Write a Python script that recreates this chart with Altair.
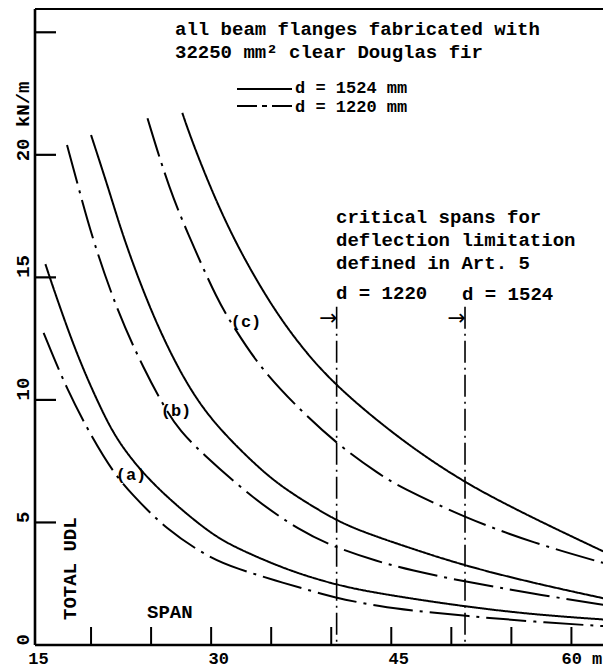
import altair as alt
import pandas as pd

# ---------------- data ----------------
# (a) d = 1524 mm (solid)
a1524_span = [16.2, 16.9, 18.8, 20.8, 22.2, 24.4, 26.9, 29.9, 31.9, 34.7, 37.4, 40.5, 43.0, 46.6, 51.0, 56.8, 63.3]
a1524_udl = [15.54, 14.5, 11.85, 9.65, 8.32, 6.95, 5.78, 4.57, 4.01, 3.40, 2.89, 2.45, 2.19, 1.90, 1.58, 1.24, 1.02]
# (a) d = 1220 mm (dash-dot)
a1220_span = [16.05, 18.0, 20.2, 21.9, 23.3, 26.3, 29.9, 32.0, 36.0, 39.7, 40.8, 44.2, 46.6, 51.3, 56.8, 63.3]
a1220_udl = [12.74, 10.40, 8.36, 7.02, 6.20, 4.69, 3.55, 3.14, 2.53, 2.02, 1.88, 1.56, 1.41, 1.18, 0.95, 0.75]
# (b) d = 1524 mm
b1524_span = [20.0, 21.6, 22.7, 24.9, 27.2, 29.4, 31.9, 34.9, 37.4, 40.5, 43.0, 46.6, 51.0, 56.8, 63.3]
b1524_udl = [20.81, 18.4, 16.6, 13.7, 11.3, 9.55, 8.2, 6.8, 5.97, 5.05, 4.55, 3.95, 3.25, 2.53, 1.84]
# (b) d = 1220 mm
b1220_span = [18.0, 19.1, 20.2, 22.2, 24.4, 26.3, 27.4, 29.1, 33.3, 37.4, 40.5, 43.8, 46.6, 51.0, 56.8, 63.3]
b1220_udl = [20.4, 18.4, 16.45, 13.6, 11.25, 9.53, 8.75, 7.88, 6.05, 4.65, 3.95, 3.42, 3.05, 2.60, 2.09, 1.59]
# (c) d = 1524 mm
c1524_span = [27.6, 28.3, 29.9, 31.9, 34.7, 37.4, 40.5, 45.8, 50.5, 54.1, 58.2, 63.3]
c1524_udl = [21.71, 20.7, 18.70, 16.52, 14.08, 12.2, 10.5, 8.36, 6.81, 5.85, 4.85, 3.67]
# (c) d = 1220 mm
c1220_span = [24.7, 26.5, 28.4, 30.5, 31.9, 34.1, 37.4, 40.5, 44.1, 45.7, 51.0, 56.8, 63.3]
c1220_udl = [21.49, 18.6, 16.4, 14.1, 12.95, 11.3, 9.59, 8.19, 6.93, 6.46, 5.22, 4.16, 3.26]

# critical spans for deflection limitation
crit_span = [40.45, 51.14]
crit_top = [13.8, 13.8]
crit_arrow = [13.34, 13.34]

x_tick_vals = [20, 25, 30, 35, 40, 45, 50, 55, 60]
x_label_vals = [15, 30, 45, 60]
y_tick_vals = [5, 10, 15, 20, 25]
y_label_vals = [0, 5, 10, 15, 20]

# ---------------- build tables ----------------
rows = []
for name, depth, sp, ud in [
    ("a", "1524", a1524_span, a1524_udl), ("a", "1220", a1220_span, a1220_udl),
    ("b", "1524", b1524_span, b1524_udl), ("b", "1220", b1220_span, b1220_udl),
    ("c", "1524", c1524_span, c1524_udl), ("c", "1220", c1220_span, c1220_udl),
]:
    for s, u in zip(sp, ud):
        rows.append({"curve": name + depth, "depth": depth, "span": s, "udl": u})
df = pd.DataFrame(rows)
crit_df = pd.DataFrame({"span": crit_span, "top": crit_top, "arrow": crit_arrow})
xt_df = pd.DataFrame({"v": x_tick_vals})
yt_df = pd.DataFrame({"v": y_tick_vals})
one = pd.DataFrame({"k": [0]})

W, H = 572, 636
FONT = "Liberation Mono"
FS = 19
FW = "bold"

xs = alt.Scale(domain=[15, 62.63], nice=False, zero=False)
ys = alt.Scale(domain=[0, 25.95], nice=False, zero=False)

xaxis = alt.Axis(values=x_label_vals, domain=False, ticks=False, grid=False, title=None,
                 labelExpr="datum.value == 60 ? '60 m' : datum.label",
                 labelFont=FONT, labelFontSize=17, labelFontWeight=FW, labelColor="black",
                 labelPadding=5, labelBaseline="top", labelFlush=False, labelOverlap=False,
                 labelBound=False,
                 labelOffset={"condition": {"test": "datum.value == 60", "value": 10}, "value": 7})
yaxis = alt.Axis(values=y_label_vals, domain=False, ticks=False, grid=False, title=None,
                 labelExpr="datum.value == 20 ? '20 kN/m' : datum.label",
                 labelAngle=270, labelAlign="left", labelBaseline="alphabetic",
                 labelFont=FONT, labelFontSize=FS, labelFontWeight=FW, labelColor="black",
                 labelPadding=3, labelFlush=False, labelOverlap=False, labelBound=False,
                 labelOffset={"condition": {"test": "datum.value == 20", "value": 6}, "value": 0})

X = lambda f: alt.X(f, scale=xs, axis=xaxis)
Y = lambda f: alt.Y(f, scale=ys, axis=yaxis)

curves = alt.Chart(df).mark_line(clip=True, strokeWidth=2, color="black", interpolate="basis").encode(
    x=X("span:Q"), y=Y("udl:Q"), detail="curve:N",
    strokeDash=alt.StrokeDash("depth:N", scale=alt.Scale(domain=["1524", "1220"],
                                                          range=[[1, 0], [40, 7, 3, 7]]), legend=None),
)

crit = alt.Chart(crit_df).mark_rule(color="black", strokeWidth=1.6, strokeDash=[22, 5, 2, 5]).encode(
    x=X("span:Q"), y=Y("top:Q"), y2=alt.value(H))
arrows = alt.Chart(crit_df).mark_text(text="→", align="right", baseline="middle", dx=1,
                                      font="DejaVu Sans", fontSize=22, color="black").encode(
    x=X("span:Q"), y=Y("arrow:Q"))

xticks = alt.Chart(xt_df).mark_rule(color="black", strokeWidth=2).encode(
    x=X("v:Q"), y=alt.value(H), y2=alt.value(H - 18))
yticks = alt.Chart(yt_df).mark_rule(color="black", strokeWidth=2.2).encode(
    y=Y("v:Q"), x=alt.value(4), x2=alt.value(25))

frame_left = alt.Chart(one).mark_rule(color="black", strokeWidth=2.6).encode(
    x=alt.value(4), y=alt.value(0), y2=alt.value(H))
frame_bottom = alt.Chart(one).mark_rule(color="black", strokeWidth=2.6).encode(
    y=alt.value(H), x=alt.value(4), x2=alt.value(W))
frame_top = alt.Chart(one).mark_rule(color="black", strokeWidth=2).encode(
    y=alt.value(0), x=alt.value(4), x2=alt.value(W))

leg1 = alt.Chart(one).mark_rule(color="black", strokeWidth=2).encode(
    y=alt.value(80), x=alt.value(206), x2=alt.value(261))
leg2 = alt.Chart(one).mark_rule(color="black", strokeWidth=2, strokeDash=[20, 5, 5, 5]).encode(
    y=alt.value(97), x=alt.value(206), x2=alt.value(261))


def txt(s, x, y, align="left", baseline="alphabetic", size=FS, angle=0):
    return alt.Chart(one).mark_text(text=s, align=align, baseline=baseline, font=FONT,
                                    fontSize=size, fontWeight=FW, color="black", angle=angle).encode(
        x=alt.value(x), y=alt.value(y))


texts = [
    txt("all beam flanges fabricated with", 144, 26),
    txt("32250 mm² clear Douglas fir", 144, 49),
    txt("d = 1524 mm", 264, 83.5, size=17),
    txt("d = 1220 mm", 264, 103, size=17),
    txt("critical spans for", 305, 214),
    txt("deflection limitation", 305, 237),
    txt("defined in Art. 5", 305, 260),
    txt("d = 1220", 305, 290),
    txt("d = 1524", 431, 291),
    txt("SPAN", 116, 609),
    txt("TOTAL UDL", 45, 611, angle=270),
    txt("(a)", 100, 466, align="center", baseline="middle", size=17),
    txt("(b)", 145, 402, align="center", baseline="middle", size=17),
    txt("(c)", 215, 313, align="center", baseline="middle", size=17),
]

chart = alt.layer(curves, crit, arrows, xticks, yticks, frame_left, frame_bottom, frame_top,
                  leg1, leg2, *texts).properties(
    width=W, height=H,
    padding={"left": 23, "top": 1, "right": 0, "bottom": 25},
    autosize=alt.AutoSizeParams(type="none"),
).configure_view(stroke=None)

chart.save("out.html", embed_options={"renderer": "svg", "actions": False})
